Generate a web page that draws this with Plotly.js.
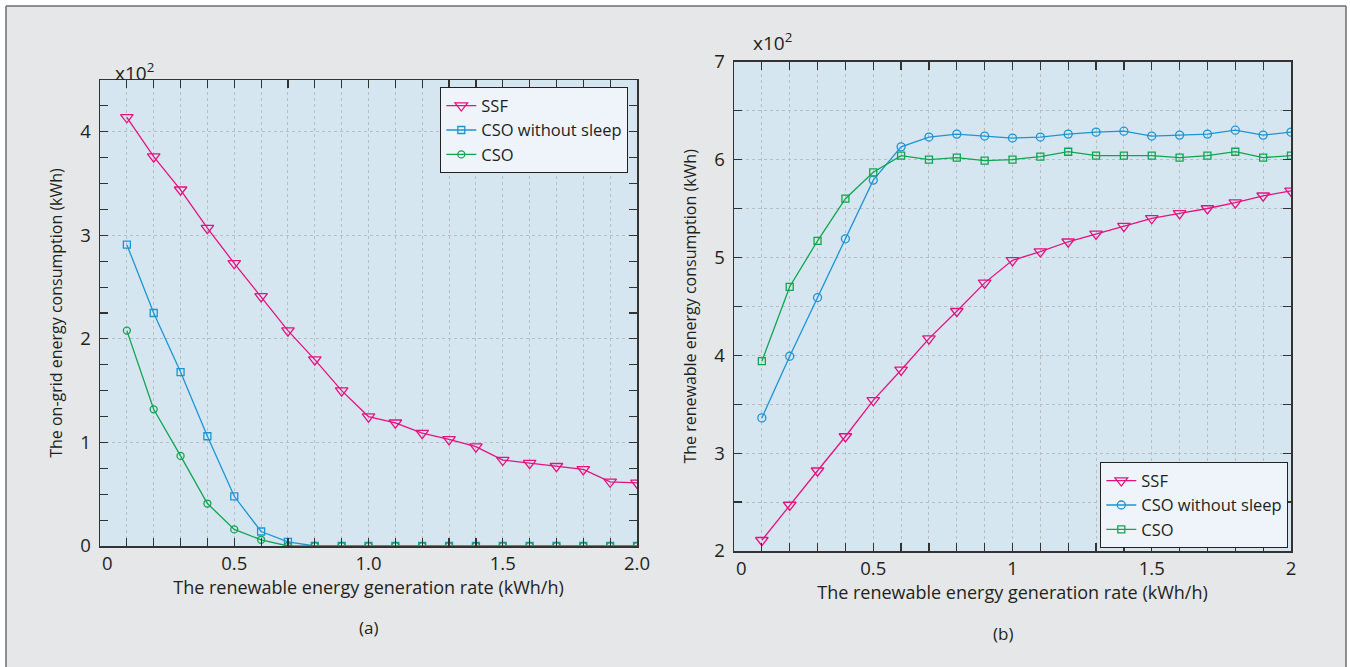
<!DOCTYPE html>
<html>
<head>
<meta charset="utf-8">
<script src="https://cdn.plot.ly/plotly-3.0.1.min.js"></script>
<style>html,body{margin:0;padding:0;background:#fff;}#chart{width:1350px;height:667px;}</style>
</head>
<body>
<div id="chart"></div>
<script>
// ---- data ----
const rate = [0.1,0.2,0.3,0.4,0.5,0.6,0.7,0.8,0.9,1.0,1.1,1.2,1.3,1.4,1.5,1.6,1.7,1.8,1.9,2.0];

// (a) on-grid energy consumption (x10^2 kWh)
const gridSSF   = [4.14,3.76,3.44,3.07,2.73,2.41,2.08,1.80,1.50,1.25,1.19,1.09,1.03,0.96,0.83,0.80,0.77,0.74,0.62,0.61];
const gridCSOns = [2.91,2.25,1.68,1.06,0.48,0.14,0.04,0,0,0,0,0,0,0,0,0,0,0,0,0];
const gridCSO   = [2.08,1.32,0.87,0.41,0.16,0.06,0,0,0,0,0,0,0,0,0,0,0,0,0,0];

// (b) renewable energy consumption (x10^2 kWh)
const renSSF   = [2.11,2.47,2.82,3.17,3.54,3.85,4.17,4.45,4.74,4.97,5.06,5.16,5.24,5.32,5.40,5.45,5.50,5.56,5.63,5.68];
const renCSOns = [3.36,3.99,4.59,5.19,5.79,6.13,6.23,6.26,6.24,6.22,6.23,6.26,6.28,6.29,6.24,6.25,6.26,6.30,6.25,6.28];
const renCSO   = [3.94,4.70,5.17,5.60,5.87,6.04,6.00,6.02,5.99,6.00,6.03,6.08,6.04,6.04,6.04,6.02,6.04,6.08,6.02,6.04];

// ---- tick labels ----
const xTickVals  = [0,0.5,1,1.5,2];
const xTickTextA = ['\u00a0\u00a0\u00a00','0.5','1.0','1.5','2.0'];
const xTickTextB = ['\u00a0\u00a0\u00a00','0.5','1','1.5','2'];
const yTickValsA = [0,1,2,3,4];
const yTickTextA = ['0','1','2','3','4'];
const yHalfGridA = [0.5,1.5,2.5,3.5,4.5];
const yTickValsB = [2,3,4,5,6,7];
const yTickTextB = ['2','3','4','5','6','7'];

const names = ['SSF','CSO without sleep','CSO'];
const cMag = '#e5127f', cBlue = '#1b95d4', cGreen = '#10a54f';
const txt = '#231f20';
const W = 1350, H = 667;

function tr(x, y, name, color, symbol, size, xa, ya, leg){
  return {x:x, y:y, name:name, type:'scatter', mode:'lines+markers',
    xaxis:xa, yaxis:ya, legend:leg,
    line:{color:color, width:1.3},
    marker:{symbol:symbol, size:size, color:color, line:{color:color, width:1.3}}};
}

const data = [
  tr(rate, gridSSF,   names[0], cMag,   'triangle-down-open', 11, 'x', 'y', 'legend'),
  tr(rate, gridCSOns, names[1], cBlue,  'square-open', 7, 'x', 'y', 'legend'),
  tr(rate, gridCSO,   names[2], cGreen, 'circle-open', 7, 'x', 'y', 'legend'),
  tr(rate, renSSF,    names[0], cMag,   'triangle-down-open', 11, 'x2', 'y2', 'legend2'),
  tr(rate, renCSOns,  names[1], cBlue,  'circle-open', 8, 'x2', 'y2', 'legend2'),
  tr(rate, renCSO,    names[2], cGreen, 'square-open', 7, 'x2', 'y2', 'legend2')
];

const axLine = '#333333';
const gridC = '#b9bec3';
const gridStyle = {showgrid:true, gridcolor:gridC, griddash:'3px,3px', gridwidth:1};
function xax(domain, text, ticktext, anchor, standoff){
  return Object.assign({domain:domain, anchor:anchor, range:[0,2], fixedrange:true,
    tickmode:'array', tickvals:xTickVals, ticktext:ticktext,
    ticks:'inside', ticklen:8, tickwidth:1.2, tickcolor:axLine,
    showline:true, linecolor:axLine, linewidth:1.5, mirror:'ticks',
    zeroline:false, tickfont:{size:18.5, color:txt},
    minor:Object.assign({dtick:0.1, tick0:0, ticks:'inside', ticklen:8, tickcolor:axLine, tickwidth:1.2}, gridStyle),
    title:{text:text, font:{size:18, color:txt}, standoff:standoff}}, gridStyle);
}
function yax(domain, range, vals, ttext, minor, text, anchor, standoff){
  return Object.assign({domain:domain, anchor:anchor, range:range, fixedrange:true,
    tickmode:'array', tickvals:vals, ticktext:ttext,
    ticks:'inside', ticklen:8, tickwidth:1.2, tickcolor:axLine,
    showline:true, linecolor:axLine, linewidth:1.5, mirror:'ticks',
    zeroline:false, tickfont:{size:18.5, color:txt}, ticklabelstandoff:4,
    minor:minor,
    title:{text:text, font:{size:16, color:txt}, standoff:standoff}}, gridStyle);
}

const legendStyle = {bgcolor:'#eef4fa', bordercolor:'#222', borderwidth:1.3,
  font:{size:16.5, color:txt}, tracegroupgap:0, itemclick:false};

const layout = {
  width:W, height:H,
  margin:{l:0, r:0, t:0, b:0},
  paper_bgcolor:'#e6e7e8', plot_bgcolor:'#d6e6f1',
  font:{family:'"Open Sans", "Noto Sans", sans-serif', size:16, color:txt},
  showlegend:true,
  xaxis: xax([100/W, 637/W], 'The renewable energy generation rate (kWh/h)', xTickTextA, 'y', 4),
  yaxis: yax([1-546/H, 1-80/H], [0,4.5], yTickValsA, yTickTextA,
             {dtick:0.25, tick0:0, ticks:'inside', ticklen:8, tickcolor:axLine, tickwidth:1.2, showgrid:false},
             'The on-grid energy consumption (kWh)', 'x', 13),
  yaxis3: {overlaying:'y', anchor:'x', side:'left', range:[0,4.5], fixedrange:true,
           tickmode:'array', tickvals:yHalfGridA, showticklabels:false, ticks:'',
           showline:false, zeroline:false, showgrid:true, gridcolor:gridC, griddash:'3px,3px', gridwidth:1},
  xaxis2: xax([734/W, 1291/W], 'The renewable energy generation rate (kWh/h)', xTickTextB, 'y2', 6),
  yaxis2: yax([1-551/H, 1-61.7/H], [2,7], yTickValsB, yTickTextB,
             Object.assign({dtick:0.5, tick0:0, ticks:'inside', ticklen:8, tickcolor:axLine, tickwidth:1.2}, gridStyle),
             'The renewable energy consumption (kWh)', 'x2', 13),
  legend: Object.assign({x:628/W, y:1-87/H, xanchor:'right', yanchor:'top'}, legendStyle),
  legend2: Object.assign({x:1288/W, y:1-548/H, xanchor:'right', yanchor:'bottom'}, legendStyle),
  annotations:[
    {text:'x10<sup>2</sup>', xref:'paper', yref:'paper', x:113/W, y:1-72/H, xanchor:'left', yanchor:'middle', showarrow:false, font:{size:19, color:txt}},
    {text:'x10<sup>2</sup>', xref:'paper', yref:'paper', x:751/W, y:1-42/H, xanchor:'left', yanchor:'middle', showarrow:false, font:{size:19, color:txt}},
    {text:'(a)', xref:'paper', yref:'paper', x:368/W, y:1-627/H, xanchor:'center', yanchor:'middle', showarrow:false, font:{size:17, color:txt}},
    {text:'(b)', xref:'paper', yref:'paper', x:1003/W, y:1-633/H, xanchor:'center', yanchor:'middle', showarrow:false, font:{size:17, color:txt}}
  ],
  shapes:[
    {type:'rect', xref:'paper', yref:'paper', x0:0, x1:6/W, y0:0, y1:1, fillcolor:'#ffffff', line:{width:0}, layer:'above'},
    {type:'rect', xref:'paper', yref:'paper', x0:0, x1:1, y0:1-6/H, y1:1, fillcolor:'#ffffff', line:{width:0}, layer:'above'},
    {type:'rect', xref:'paper', yref:'paper', x0:1346/W, x1:1, y0:0, y1:1, fillcolor:'#ffffff', line:{width:0}, layer:'above'},
    {type:'line', xref:'paper', yref:'paper', x0:6/W, x1:6/W, y0:0, y1:1-6/H, line:{color:'#6d6e70', width:1.5}, layer:'above'},
    {type:'line', xref:'paper', yref:'paper', x0:6/W, x1:1346/W, y0:1-6/H, y1:1-6/H, line:{color:'#6d6e70', width:1.5}, layer:'above'},
    {type:'line', xref:'paper', yref:'paper', x0:1346/W, x1:1346/W, y0:0, y1:1-6/H, line:{color:'#6d6e70', width:1.5}, layer:'above'}
  ]
};

Plotly.newPlot('chart', data, layout, {displayModeBar:false, staticPlot:true});
</script>
</body>
</html>
